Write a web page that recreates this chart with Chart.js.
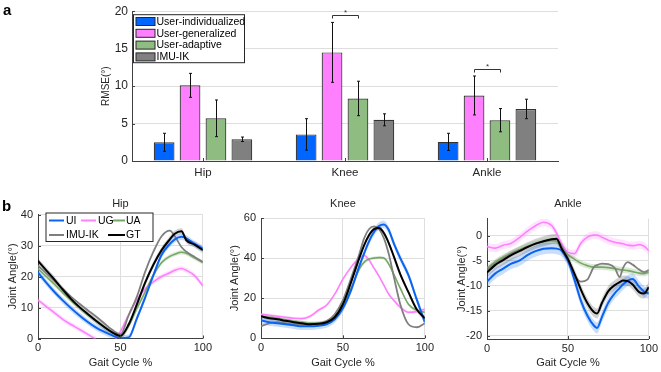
<!DOCTYPE html>
<html>
<head>
<title>Joint angle estimation - RMSE and gait curves</title>
<script src="https://cdn.jsdelivr.net/npm/chart.js"></script>
<style>
  body { margin: 0; background: #ffffff; font-family: "Liberation Sans", Arial, sans-serif; }
  #page { position: relative; width: 661px; height: 372px; overflow: hidden; }
  .panel { position: absolute; }
  .tag { position: absolute; font-weight: bold; font-size: 15px; color: #000; }
</style>
</head>
<body>
<div id="page">
  <div class="panel" style="left:0; top:0; width:661px; height:185px;"><canvas id="barChart"></canvas></div>
  <div class="panel" style="left:0; top:185px; width:215px; height:187px;"><canvas id="hipChart"></canvas></div>
  <div class="panel" style="left:215px; top:185px; width:222px; height:187px;"><canvas id="kneeChart"></canvas></div>
  <div class="panel" style="left:437px; top:185px; width:224px; height:187px;"><canvas id="ankleChart"></canvas></div>
  <div class="tag" style="left:3px; top:1px;">a</div>
  <div class="tag" style="left:2px; top:197px;">b</div>
</div>

<script>
// ---- panel a: RMSE per joint (deg) ----
const joints = ['Hip', 'Knee', 'Ankle'];
const methodNames = ['User-individualized', 'User-generalized', 'User-adaptive', 'IMU-IK'];
const rmseUI = [2.5, 3.55, 2.55];
const rmseUG = [10.1, 14.5, 8.75];
const rmseUA = [5.7, 8.35, 5.45];
const rmseIK = [2.9, 5.5, 6.95];
const sdUI = [1.2, 2.1, 1.15];
const sdUG = [1.6, 4.0, 2.6];
const sdUA = [2.45, 2.3, 1.55];
const sdIK = [0.3, 0.8, 1.3];
const rmseTicks = [0, 5, 10, 15, 20];
// significance brackets (joint index, height), always between UG and UA bars
const sigJoint = [1, 2];
const sigLevel = [19.5, 12.3];
const sigPair = [1, 2];

// ---- panel b: joint angle over the gait cycle ----
const seriesCodes = ['UI', 'UG', 'UA', 'IMU-IK', 'GT'];
const gaitTicks = [0, 50, 100];

const hipX  = [0, 5, 10, 15, 20, 25, 30, 35, 40, 45, 50, 55, 60, 65, 70, 75, 80, 83, 87, 90, 95, 100];
const hipUI = [21.3, 18, 15, 12.3, 9.8, 7.5, 5.4, 3.6, 2.2, 1, 0.1, 0.3, 6.5, 13.2, 20.4, 27, 30.5, 32, 32.8, 32.3, 30.5, 29];
const hipUG = [12.4, 10.3, 8.3, 6.2, 4.5, 3, 1.4, -0.3, -2.5, -1.5, 2.2, 7.6, 12.5, 16, 18.3, 20, 21.2, 22, 22.6, 22, 20.3, 17];
const hipUA = [22.5, 20, 17.5, 14.8, 12.3, 10, 7.8, 5.7, 3.8, 2, 0.7, 4, 9.7, 15, 20.4, 24.5, 26.5, 27.2, 27.8, 27.5, 26, 24.5];
const hipIK = [23.5, 21, 18.5, 16, 13.5, 11.3, 9.2, 7.2, 5, 2.8, 1.3, 7.5, 13.5, 21.5, 28, 33, 34.8, 33, 29.5, 28, 26.3, 24.7];
const hipGT = [25, 22, 19, 15.8, 12.8, 10.2, 8, 5.8, 3.8, 2, 0.8, 4.5, 11, 18, 23.8, 28.5, 32, 33.8, 34.6, 31.7, 30.3, 28.5];
const hipSpread = [1.0, 0.8, 0.7, 0, 1.0];
const hipTicks = [0, 10, 20, 30, 40];

const kneeX  = [0, 5, 10, 15, 20, 25, 30, 35, 40, 45, 50, 55, 60, 63, 66, 69, 72, 75, 78, 81, 85, 90, 95, 100];
const kneeUI = [9, 8, 7.5, 7, 6.5, 6, 6, 6.3, 7, 9.5, 15, 24, 36, 42.5, 48.5, 53, 56, 56.8, 54, 47.5, 40, 31.5, 19.5, 8];
const kneeUG = [12, 11.5, 11, 10.5, 10, 9.8, 11, 14, 16.5, 22, 29.5, 35.5, 40, 41.3, 39, 35, 31, 26.5, 22, 19, 15.5, 13, 13.3, 14.5];
const kneeUA = [11, 10.5, 10, 9.2, 8.5, 8, 7.5, 7.5, 8.5, 11, 17, 25, 34.5, 38, 39.5, 40, 40.3, 40, 37, 32, 25, 17, 14, 13];
const kneeIK = [6, 7.5, 8, 7.5, 7, 7, 7, 7.3, 8.5, 12, 19, 30, 42, 50, 54.5, 55.8, 54.5, 50, 42, 31, 17, 7, 5.5, 7.5];
const kneeGT = [11, 10, 9.5, 8.7, 8, 7.5, 7, 7.2, 8, 10.5, 17, 28, 40, 46.5, 51.5, 54.5, 55, 52.5, 47.5, 41, 32, 23, 14.5, 10];
const kneeSpread = [1.8, 0.8, 0.8, 0, 1.2];
const kneeTicks = [0, 20, 40, 60];

const ankleX  = [0, 5, 10, 15, 20, 25, 30, 35, 40, 43, 46, 50, 54, 58, 62, 66, 68, 71, 75, 79, 82, 84, 87, 90, 94, 97, 100];
const ankleUI = [-9.2, -7.6, -6.6, -5.6, -5, -3.9, -3.1, -2.6, -2.5, -2.6, -3, -5, -8.8, -13, -16, -18, -18.5, -16.3, -13.4, -11.5, -10.5, -9.8, -9, -8.7, -10.2, -11.2, -11.6];
const ankleUG = [-2.2, -2.5, -1.9, -1.5, -0.4, 0.9, 2, 2.7, 2, 0.5, -1.5, -3.3, -3.6, -1.5, -0.3, 0.1, 0.1, -0.3, -0.9, -1.3, -1.5, -1.6, -1.9, -2, -1.8, -2.1, -3];
const ankleUA = [-6.5, -5.3, -4.3, -3.5, -2.8, -2.1, -1.6, -1.2, -1, -1.2, -2.3, -3.8, -4.7, -5.5, -6, -6.3, -6.3, -6.3, -6.4, -6.6, -6.8, -6.9, -7, -7.2, -7.5, -7.6, -7.3];
const ankleIK = [-7, -5.6, -4.6, -3.6, -2.9, -2.2, -1.6, -1.1, -0.8, -0.8, -2, -4.5, -7.8, -9.2, -8.8, -6.3, -5.9, -5.6, -5.7, -6.5, -8.3, -6.5, -5.3, -5.8, -6.8, -7.3, -6.9];
const ankleGT = [-7.4, -5.9, -4.9, -3.9, -3.1, -2.3, -1.6, -1.1, -0.7, -0.6, -2.5, -4.7, -7.6, -10.8, -13.5, -15.3, -15.6, -13.5, -11.1, -9.9, -9.3, -9, -9.1, -9.8, -11.3, -11.6, -10.3];
const ankleSpread = [1.1, 0.8, 0.6, 0, 1.0];
const ankleTicks = [-20, -15, -10, -5, 0];

const FONT = '"Liberation Sans", Arial, sans-serif';
Chart.defaults.font.family = FONT;
Chart.defaults.color = '#262626';

const axisColor = '#404040';
const gridColor = '#dedede';

// small inward tick marks, matlab style
const inwardTicks = {
  id: 'inwardTicks',
  afterDraw(chart) {
    const { ctx, chartArea: ca, scales } = chart;
    ctx.save();
    ctx.strokeStyle = axisColor;
    ctx.lineWidth = 1;
    ctx.beginPath();
    scales.y.ticks.forEach((t, i) => {
      const py = Math.round(scales.y.getPixelForTick(i)) + 0.5;
      ctx.moveTo(ca.left, py);
      ctx.lineTo(ca.left + 3, py);
    });
    scales.x.ticks.forEach((t, i) => {
      const px = Math.round(scales.x.getPixelForTick(i)) + 0.5;
      ctx.moveTo(px, ca.bottom);
      ctx.lineTo(px, ca.bottom - 3);
    });
    ctx.stroke();
    ctx.restore();
  }
};

// ---------- panel a ----------
const errorBars = {
  id: 'errorBars',
  afterDatasetsDraw(chart) {
    const { ctx } = chart;
    const y = chart.scales.y;
    ctx.save();
    ctx.strokeStyle = '#111';
    ctx.lineWidth = 1;
    chart.data.datasets.forEach((ds, i) => {
      chart.getDatasetMeta(i).data.forEach((bar, j) => {
        const top = y.getPixelForValue(ds.data[j] + ds.sd[j]);
        const bot = y.getPixelForValue(ds.data[j] - ds.sd[j]);
        const x = Math.round(bar.x) + 0.5;
        ctx.beginPath();
        ctx.moveTo(x, top); ctx.lineTo(x, bot);
        ctx.moveTo(x - 1.5, top); ctx.lineTo(x + 1.5, top);
        ctx.moveTo(x - 1.5, bot); ctx.lineTo(x + 1.5, bot);
        ctx.stroke();
      });
    });
    ctx.restore();
  }
};

const sigBrackets = {
  id: 'sigBrackets',
  afterDatasetsDraw(chart) {
    const { ctx } = chart;
    const y = chart.scales.y;
    const a = chart.getDatasetMeta(sigPair[0]);
    const b = chart.getDatasetMeta(sigPair[1]);
    ctx.save();
    ctx.strokeStyle = '#333';
    ctx.fillStyle = '#333';
    ctx.lineWidth = 1;
    ctx.font = '8px ' + FONT;
    ctx.textAlign = 'center';
    ctx.textBaseline = 'bottom';
    sigJoint.forEach((j, k) => {
      const x1 = Math.round(a.data[j].x) + 0.5;
      const x2 = Math.round(b.data[j].x) + 0.5;
      const py = Math.round(y.getPixelForValue(sigLevel[k])) + 0.5;
      ctx.beginPath();
      ctx.moveTo(x1, py + 3); ctx.lineTo(x1, py); ctx.lineTo(x2, py); ctx.lineTo(x2, py + 3);
      ctx.stroke();
      ctx.fillText('*', (x1 + x2) / 2, py + 1);
    });
    ctx.restore();
  }
};

const barLegend = {
  id: 'barLegend',
  afterDraw(chart) {
    const { ctx, chartArea: ca } = chart;
    const x0 = ca.left + 1.5, y0 = ca.top + 3.5, w = 111, h = 48;
    ctx.save();
    ctx.fillStyle = '#fff';
    ctx.fillRect(x0, y0, w, h);
    ctx.strokeStyle = '#262626';
    ctx.lineWidth = 1;
    ctx.strokeRect(x0, y0, w, h);
    ctx.font = '10.5px ' + FONT;
    ctx.textBaseline = 'middle';
    ctx.textAlign = 'left';
    chart.data.datasets.forEach((ds, i) => {
      const cy = y0 + 6.8 + i * 11.8;
      ctx.fillStyle = ds.backgroundColor;
      ctx.fillRect(x0 + 2.5, cy - 4, 19, 8);
      ctx.strokeStyle = '#262626';
      ctx.strokeRect(x0 + 2.5, cy - 4, 19, 8);
      ctx.fillStyle = '#000';
      ctx.fillText(ds.label, x0 + 23, cy + 0.5);
    });
    ctx.restore();
  }
};

const barColors = ['#0066ff', '#ff80ff', '#8fbc80', '#808080'];
const rmseSets = [rmseUI, rmseUG, rmseUA, rmseIK];
const sdSets = [sdUI, sdUG, sdUA, sdIK];

new Chart(document.getElementById('barChart'), {
  type: 'bar',
  data: {
    labels: joints,
    datasets: methodNames.map((name, i) => ({
      label: name,
      data: rmseSets[i],
      sd: sdSets[i],
      backgroundColor: barColors[i],
      borderColor: '#333333',
      borderWidth: 1.2,
      categoryPercentage: 0.73,
      barPercentage: 0.8
    }))
  },
  options: {
    responsive: true,
    maintainAspectRatio: false,
    animation: false,
    layout: { padding: { left: 96, right: 103, top: 6, bottom: 0 } },
    plugins: { legend: { display: false }, tooltip: { enabled: false } },
    scales: {
      x: {
        grid: { display: false, drawTicks: false },
        border: { color: axisColor, width: 1 },
        ticks: { padding: 5, font: { size: 11.5 } },
        afterFit(s) { s.height = 24; }
      },
      y: {
        min: 0,
        max: 20,
        afterBuildTicks(s) { s.ticks = rmseTicks.map(v => ({ value: v })); },
        grid: { color: gridColor, drawTicks: false },
        border: { color: axisColor, width: 1 },
        ticks: { padding: 4, font: { size: 12 } },
        title: { display: true, text: 'RMSE(°)', font: { size: 10 }, padding: { top: 4, bottom: 0 } },
        afterFit(s) { s.width = 36; }
      }
    }
  },
  plugins: [errorBars, sigBrackets, inwardTicks, barLegend]
});

// ---------- panel b ----------
const lineColors = ['#0a64f0', '#ff80ff', '#76a865', '#7f7f7f', '#000000'];
const bandColors = ['rgba(10,100,240,0.22)', 'rgba(255,128,255,0.22)', 'rgba(118,168,101,0.25)', 'rgba(0,0,0,0)', 'rgba(0,0,0,0.18)'];
const lineWidths = [2, 1.6, 1.6, 1.8, 2];
const lineOrder = [1, 4, 3, 2, 0];

const angleLegend = {
  id: 'angleLegend',
  afterDraw(chart) {
    if (!chart.options.plugins.angleLegend.show) return;
    const { ctx, chartArea: ca } = chart;
    const x0 = ca.left + 8, y0 = ca.top - 1.5, w = 107, h = 28.5;
    // [series index, row, line start, line end, text x]
    const items = [[0, 0, 3, 18, 20], [1, 0, 35, 50, 52], [2, 0, 67, 79, 80], [3, 1, 3, 18, 20], [4, 1, 62, 79, 80]];
    ctx.save();
    ctx.fillStyle = '#fff';
    ctx.fillRect(x0, y0, w, h);
    ctx.strokeStyle = '#262626';
    ctx.lineWidth = 1;
    ctx.strokeRect(x0, y0, w, h);
    ctx.font = '10.5px ' + FONT;
    ctx.textBaseline = 'middle';
    ctx.textAlign = 'left';
    items.forEach(([k, row, l1, l2, tx]) => {
      const cy = y0 + 7.5 + row * 14.5;
      ctx.strokeStyle = lineColors[k];
      ctx.lineWidth = 2;
      ctx.beginPath();
      ctx.moveTo(x0 + l1, cy); ctx.lineTo(x0 + l2, cy);
      ctx.stroke();
      ctx.fillStyle = '#000';
      ctx.fillText(seriesCodes[k], x0 + tx, cy + 0.5);
    });
    ctx.restore();
  }
};

function jointChart(id, c) {
  const datasets = [];
  c.ys.forEach((ys, k) => {
    const s = c.spread[k];
    if (s > 0) {
      datasets.push({
        data: c.xs.map((x, i) => ({ x: x, y: ys[i] + s })),
        borderWidth: 0, borderColor: 'transparent', pointRadius: 0,
        fill: false, order: 10 + k, cubicInterpolationMode: 'monotone'
      });
      datasets.push({
        data: c.xs.map((x, i) => ({ x: x, y: ys[i] - s })),
        borderWidth: 0, borderColor: 'transparent', pointRadius: 0,
        fill: '-1', backgroundColor: bandColors[k], order: 10 + k, cubicInterpolationMode: 'monotone'
      });
    }
    datasets.push({
      label: seriesCodes[k],
      data: c.xs.map((x, i) => ({ x: x, y: ys[i] })),
      borderColor: lineColors[k],
      borderWidth: lineWidths[k],
      pointRadius: 0,
      fill: false,
      order: lineOrder[k],
      cubicInterpolationMode: 'monotone'
    });
  });

  return new Chart(document.getElementById(id), {
    type: 'line',
    data: { datasets: datasets },
    options: {
      responsive: true,
      maintainAspectRatio: false,
      animation: false,
      layout: { padding: { left: c.padLeft, right: c.padRight, top: 0, bottom: 0 } },
      plugins: {
        legend: { display: false },
        tooltip: { enabled: false },
        angleLegend: { show: c.legend },
        title: {
          display: true, text: c.title, fullSize: false,
          font: { size: 11, weight: 'normal' }, color: '#262626',
          padding: { top: 12.4, bottom: c.titleBottom }
        }
      },
      scales: {
        x: {
          type: 'linear', min: 0, max: 100,
          afterBuildTicks(s) { s.ticks = gaitTicks.map(v => ({ value: v })); },
          grid: { color: gridColor, drawTicks: false },
          border: { color: axisColor, width: 1 },
          ticks: { padding: 3, font: { size: 11 } },
          title: { display: true, text: 'Gait Cycle %', font: { size: 11 }, padding: { top: 0, bottom: 2.4 } },
          afterFit(s) { s.height = c.xHeight; }
        },
        y: {
          min: c.yMin, max: c.yMax,
          afterBuildTicks(s) { s.ticks = c.yTicks.map(v => ({ value: v })); },
          grid: { color: gridColor, drawTicks: false },
          border: { color: axisColor, width: 1 },
          ticks: { padding: 5, font: { size: 11 } },
          title: { display: true, text: 'Joint Angle(°)', font: { size: 11 }, padding: { top: 4.4, bottom: 0 } },
          afterFit(s) { s.width = c.yWidth; }
        }
      }
    },
    plugins: [inwardTicks, angleLegend]
  });
}

jointChart('hipChart', {
  title: 'Hip', xs: hipX, ys: [hipUI, hipUG, hipUA, hipIK, hipGT], spread: hipSpread,
  yMin: 0, yMax: 40, yTicks: hipTicks,
  padLeft: 2, padRight: 10, yWidth: 36, xHeight: 33.5, titleBottom: 3.9, legend: true
});

jointChart('kneeChart', {
  title: 'Knee', xs: kneeX, ys: [kneeUI, kneeUG, kneeUA, kneeIK, kneeGT], spread: kneeSpread,
  yMin: 0, yMax: 60, yTicks: kneeTicks,
  padLeft: 9, padRight: 10.3, yWidth: 37, xHeight: 33.7, titleBottom: 7.4, legend: false
});

jointChart('ankleChart', {
  title: 'Ankle', xs: ankleX, ys: [ankleUI, ankleUG, ankleUA, ankleIK, ankleGT], spread: ankleSpread,
  yMin: -20.7, yMax: 3.4, yTicks: ankleTicks,
  padLeft: 14, padRight: 11, yWidth: 36, xHeight: 33, titleBottom: 8.1, legend: false
});
</script>
</body>
</html>
